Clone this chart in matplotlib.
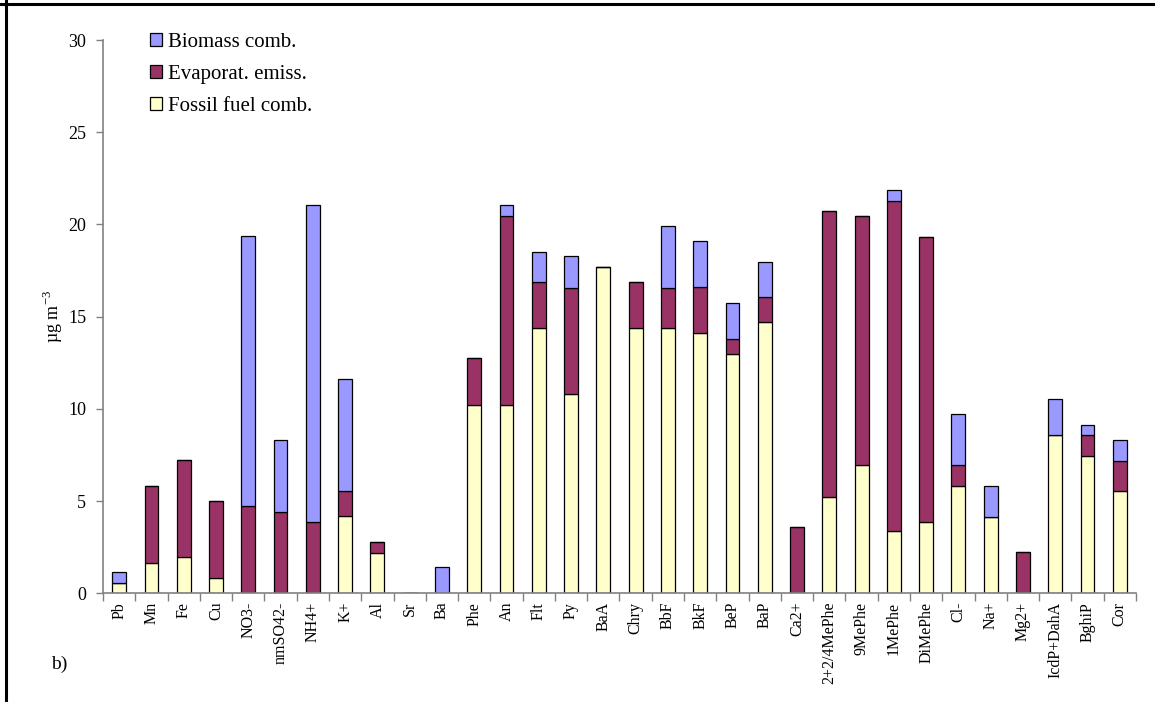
import matplotlib.pyplot as plt
import numpy as np

plt.rcParams['font.family'] = ['Liberation Serif', 'DejaVu Serif']
plt.rcParams['mathtext.fontset'] = 'custom'
plt.rcParams['mathtext.rm'] = 'Liberation Serif'

especies = ['Pb', 'Mn', 'Fe', 'Cu', 'NO3-', 'nmSO42-', 'NH4+', 'K+', 'Al', 'Sr', 'Ba',
            'Phe', 'An', 'Flt', 'Py', 'BaA', 'Chry', 'BbF', 'BkF', 'BeP', 'BaP', 'Ca2+',
            '2+2/4MePhe', '9MePhe', '1MePhe', 'DiMePhe', 'Cl-', 'Na+', 'Mg2+',
            'IcdP+DahA', 'BghiP', 'Cor']

# contribuicoes de cada fonte (ug m-3)
fossil = [0.59, 1.65, 1.96, 0.82, 0.0, 0.0, 0.0, 4.19, 2.21, 0.0, 0.0,
          10.21, 10.21, 14.37, 10.79, 17.72, 14.37, 14.37, 14.12, 13.0, 14.7, 0.0,
          5.24, 6.94, 3.36, 3.86, 5.82, 4.17, 0.0,
          8.58, 7.46, 5.56]
evap = [0.0, 4.17, 5.25, 4.18, 4.75, 4.42, 3.86, 1.37, 0.58, 0.0, 0.0,
        2.53, 10.27, 2.53, 5.79, 0.0, 2.53, 2.21, 2.48, 0.81, 1.39, 3.61,
        15.5, 13.54, 17.94, 15.48, 1.14, 0.0, 2.23,
        0.0, 1.12, 1.63]
biomassa = [0.58, 0.0, 0.0, 0.0, 14.6, 3.91, 17.17, 6.04, 0.0, 0.0, 1.42,
            0.0, 0.58, 1.63, 1.7, 0.0, 0.0, 3.34, 2.51, 1.95, 1.88, 0.0,
            0.0, 0.0, 0.58, 0.0, 2.76, 1.65, 0.0,
            1.96, 0.56, 1.14]

fossil = np.array(fossil)
evap = np.array(evap)
biomassa = np.array(biomassa)
x = np.arange(len(especies))

fig = plt.figure(figsize=(11.55, 7.02), dpi=100)
ax = fig.add_axes([0.0892, 0.1546, 0.8943, 0.7884])

larg = 0.43
ax.bar(x, fossil, larg, color='#FFFFCC', edgecolor='black', linewidth=0.9,
       label='Fossil fuel comb.')
ax.bar(x, evap, larg, bottom=fossil, color='#993366', edgecolor='black', linewidth=0.9,
       label='Evaporat. emiss.')
ax.bar(x, biomassa, larg, bottom=fossil + evap, color='#9999FF', edgecolor='black',
       linewidth=0.9, label='Biomass comb.')

ax.set_xlim(-0.5, len(especies) - 0.5)
ax.set_ylim(0, 30)
ax.set_yticks([0, 5, 10, 15, 20, 25, 30])
ax.tick_params(axis='y', labelsize=13, direction='out', length=5, color='#808080',
               width=1, pad=7)
ax.set_xticks(x)
ax.set_xticklabels(especies, rotation=90, fontsize=11.5)
ax.tick_params(axis='x', length=0, pad=6)
ax.set_xticks(np.arange(len(especies) + 1) - 0.5, minor=True)
ax.tick_params(axis='x', which='minor', direction='out', length=6, color='#808080', width=1)

for s in ['top', 'right']:
    ax.spines[s].set_visible(False)
for s in ['left', 'bottom']:
    ax.spines[s].set_color('#808080')
    ax.spines[s].set_linewidth(1.2)

ax.set_ylabel('µg m$^{-3}$', fontsize=13, labelpad=2)

h, l = ax.get_legend_handles_labels()
ax.legend(h[::-1], l[::-1], loc='upper left', bbox_to_anchor=(0.027, 1.047), frameon=False,
          fontsize=15, handlelength=0.6, handleheight=0.6, handletextpad=0.3,
          labelspacing=0.62)

fig.text(0.044, 0.047, 'b)', fontsize=14)

# moldura parcial (topo e esquerda)
fig.add_artist(plt.Line2D([0, 1], [0.9945, 0.9945], transform=fig.transFigure,
                          color='black', linewidth=2.2))
fig.add_artist(plt.Line2D([0.005, 0.005], [0, 1], transform=fig.transFigure,
                          color='black', linewidth=2.2))

fig.savefig('out.png', dpi=100)
